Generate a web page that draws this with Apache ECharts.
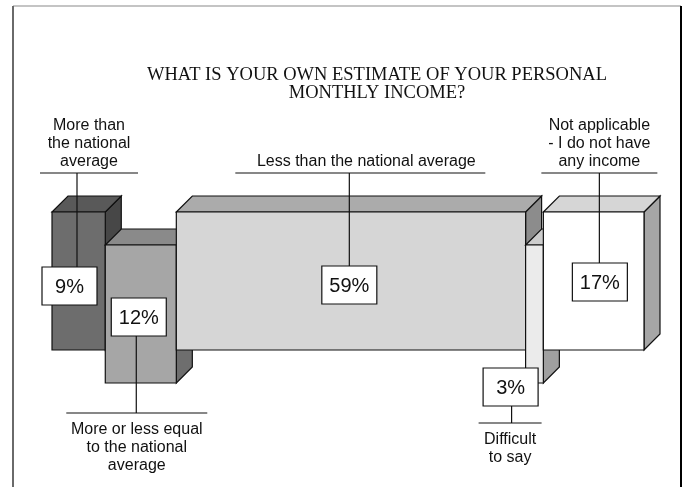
<!DOCTYPE html>
<html>
<head>
<meta charset="utf-8">
<script src="https://cdn.jsdelivr.net/npm/echarts@6/dist/echarts.min.js"></script>
<style>
  html, body { margin: 0; padding: 0; background: #fff; }
  #chart { width: 685px; height: 487px; }
</style>
</head>
<body>
<div id="chart"></div>
<script>
// Survey answers and their shares (percent of respondents)
const categories = [
  'More than\nthe national\naverage',
  'More or less equal\nto the national\naverage',
  'Less than the national average',
  'Difficult\nto say',
  'Not applicable\n- I do not have\nany income'
];
const shares = [9, 12, 59, 3, 17];

// Block shading: front face, top face, side face
const faceColors = [
  { front: '#6d6d6d', top: '#595959', side: '#474747' },
  { front: '#a6a6a6', top: '#8a8a8a', side: '#6e6e6e' },
  { front: '#d6d6d6', top: '#ababab', side: '#8c8c8c' },
  { front: '#ebebeb', top: '#cdcdcd', side: '#a0a0a0' },
  { front: '#ffffff', top: '#d6d6d6', side: '#a6a6a6' }
];

// Callout placement relative to each block (pixels):
// leader = stem x from block's left edge, box = box centre from stem,
// rule = underline centre from stem, text = caption centre from stem
const callouts = [
  { leader: 25,  box: -7.5, boxTop: 55,  above: true,  gap: 39, half: 49,   rule: 12,   text: 12 },
  { leader: 31,  box: 2.5,  boxTop: 53,  above: false, gap: 30, half: 70.5, rule: 0.5,  text: 0.5 },
  { leader: 173, box: 0,    boxTop: 54,  above: true,  gap: 39, half: 125,  rule: 11,   text: 17 },
  { leader: -14, box: -1,   boxTop: 123, above: false, gap: 40, half: 31.5, rule: -1.5, text: -1.5 },
  { leader: 56,  box: 0.5,  boxTop: 51,  above: true,  gap: 39, half: 58,   rule: 0,    text: 0 }
];

const DEPTH = 16;      // 3D offset of the top/side faces
const FRONT_H = 138;   // height of a block's front face
const DROP = 33;       // vertical shift of every second block
const BOX_W = 55, BOX_H = 38;
const EDGE = { stroke: '#111', lineWidth: 1.2 };

// Cumulative start/end of every block along the 0-100 axis
const segments = [];
let acc = 0;
shares.forEach((s, i) => {
  segments.push([acc, acc + s, s, i]);
  acc += s;
});

function blockFrame(params, api) {
  const i = params.dataIndex;
  const x0 = api.coord([api.value(0), 0])[0];
  const x1 = api.coord([api.value(1), 0])[0];
  const yTop = params.coordSys.y + (i % 2) * DROP;
  const yBot = yTop + FRONT_H;
  return { i, x0, x1, yTop, yBot };
}

function renderBlock(params, api) {
  const { i, x0, x1, yTop, yBot } = blockFrame(params, api);
  const c = faceColors[i];
  const d = DEPTH;
  return {
    type: 'group',
    children: [
      {
        type: 'polygon',
        shape: { points: [[x1, yTop], [x1 + d, yTop - d], [x1 + d, yBot - d], [x1, yBot]] },
        style: Object.assign({ fill: c.side }, EDGE)
      },
      {
        type: 'polygon',
        shape: { points: [[x0, yTop], [x0 + d, yTop - d], [x1 + d, yTop - d], [x1, yTop]] },
        style: Object.assign({ fill: c.top }, EDGE)
      },
      {
        type: 'rect',
        shape: { x: x0, y: yTop, width: x1 - x0, height: FRONT_H },
        style: Object.assign({ fill: c.front }, EDGE)
      }
    ]
  };
}

function renderCallout(params, api) {
  const { i, x0, yTop, yBot } = blockFrame(params, api);
  const c = callouts[i];
  const lx = x0 + c.leader;
  const bx = lx + c.box - BOX_W / 2;
  const by = yTop + c.boxTop;
  const lineY = c.above ? yTop - c.gap : yBot + c.gap;
  const stemFrom = c.above ? by : by + BOX_H;
  const rx = lx + c.rule;
  const tx = lx + c.text;
  const font = '"Liberation Sans", Arial, sans-serif';
  return {
    type: 'group',
    children: [
      { type: 'line', shape: { x1: lx, y1: stemFrom, x2: lx, y2: lineY }, style: EDGE },
      { type: 'line', shape: { x1: rx - c.half, y1: lineY, x2: rx + c.half, y2: lineY }, style: EDGE },
      {
        type: 'rect',
        shape: { x: bx, y: by, width: BOX_W, height: BOX_H },
        style: { fill: '#fff', stroke: '#111', lineWidth: 1.2 }
      },
      {
        type: 'text',
        style: {
          x: bx + BOX_W / 2, y: by + BOX_H / 2 + 1,
          text: api.value(2) + '%',
          align: 'center', verticalAlign: 'middle',
          fontFamily: font, fontSize: 20, fill: '#111'
        }
      },
      {
        type: 'text',
        style: {
          x: tx, y: c.above ? lineY - 2 : lineY + 8,
          text: categories[i],
          align: 'center', verticalAlign: c.above ? 'bottom' : 'top',
          lineHeight: 18,
          fontFamily: font, fontSize: 16, fill: '#111'
        }
      }
    ]
  };
}

const chart = echarts.init(document.getElementById('chart'), null, { renderer: 'canvas' });
chart.setOption({
  animation: false,
  backgroundColor: '#fff',
  title: {
    text: 'WHAT IS YOUR OWN ESTIMATE OF YOUR PERSONAL\nMONTHLY INCOME?',
    left: 377, top: 66, padding: 0,
    textAlign: 'center',
    textStyle: {
      fontFamily: '"Liberation Serif", "Times New Roman", serif',
      fontWeight: 'normal', fontSize: 18.5, lineHeight: 18, color: '#111'
    }
  },
  graphic: [
    { type: 'line', shape: { x1: 13, y1: 6, x2: 681, y2: 6 }, style: { stroke: '#b0b0b0', lineWidth: 1.5 } },
    { type: 'line', shape: { x1: 13, y1: 6, x2: 13, y2: 487 }, style: { stroke: '#6a6a6a', lineWidth: 2 } },
    { type: 'line', shape: { x1: 681, y1: 6, x2: 681, y2: 487 }, style: { stroke: '#000', lineWidth: 2 } }
  ],
  grid: { left: 52, right: 41, top: 212, bottom: 104 },
  xAxis: { type: 'value', min: 0, max: 100, show: false },
  yAxis: { type: 'value', min: 0, max: 1, show: false },
  series: [
    {
      type: 'custom', z: 2,
      encode: { x: [0, 1] },
      data: segments,
      renderItem: renderBlock
    },
    {
      type: 'custom', z: 5,
      encode: { x: [0, 1] },
      data: segments,
      renderItem: renderCallout
    }
  ]
});
</script>
</body>
</html>
